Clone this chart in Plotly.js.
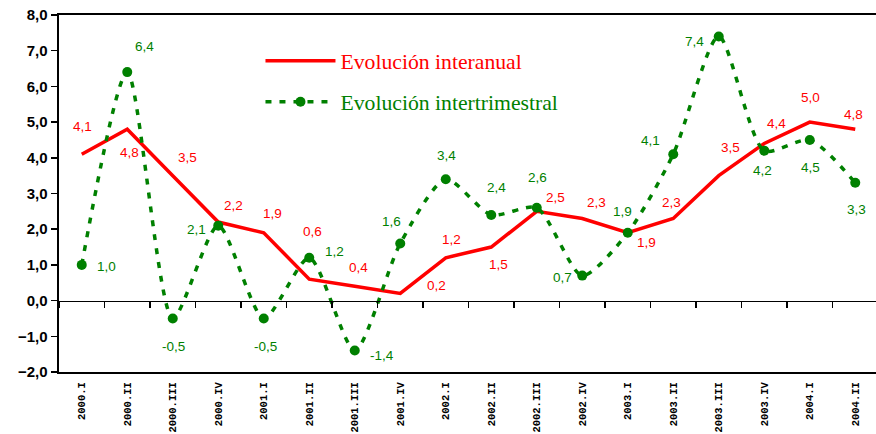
<!DOCTYPE html>
<html><head><meta charset="utf-8">
<script src="https://cdn.plot.ly/plotly-3.0.1.min.js"></script>
<style>html,body{margin:0;padding:0;overflow:hidden;background:#fff}</style>
</head><body><div id="chart" style="width:878px;height:434px"></div>
<script>
const categories = ['2000.I','2000.II','2000.III','2000.IV','2001.I','2001.II','2001.III','2001.IV',
  '2002.I','2002.II','2002.III','2002.IV','2003.I','2003.II','2003.III','2003.IV','2004.I','2004.II'];
const interanual = [4.1, 4.8, 3.5, 2.2, 1.9, 0.6, 0.4, 0.2, 1.2, 1.5, 2.5, 2.3, 1.9, 2.3, 3.5, 4.4, 5.0, 4.8];
const intertrimestral = [1.0, 6.4, -0.5, 2.1, -0.5, 1.2, -1.4, 1.6, 3.4, 2.4, 2.6, 0.7, 1.9, 4.1, 7.4, 4.2, 4.5, 3.3];
const seriesNames = ['Evolución interanual', 'Evolución intertrimestral'];

// label offsets in pixels [dx, dy] (dy positive = down)
const redLabelOffsets = [[1,-28],[2,23],[15,-18],[15,-17],[9,-19],[3,-48],[4,-19],[36,-8],[6,-18],
  [7,17],[19,-14],[14,-16],[19,10],[-2,-16],[12,-28],[12,-20],[1,-25],[-2,-15]];
const greenLabelOffsets = [[25,2],[17,-26],[1,28],[-22,4],[2,28],[25,-6],[27,5],[-9,-22],[1,-24],
  [5,-27],[1,-30],[-20,2],[-5,-21],[-23,-14],[-24,5],[-2,20],[1,28],[1,27]];

const RED = '#FF0000', GREEN = '#008000';
const fmt = v => v.toFixed(1).replace('.', ',');

const annotations = [];
function addLabels(vals, offs, color) {
  vals.forEach((v, i) => {
    annotations.push({
      x: categories[i], y: v, xref: 'x', yref: 'y', text: fmt(v), showarrow: false,
      xshift: offs[i][0], yshift: -offs[i][1],
      font: {family: 'Liberation Sans, Arial, sans-serif', size: 13.5, color: color}
    });
  });
}
addLabels(interanual, redLabelOffsets, RED);
addLabels(intertrimestral, greenLabelOffsets, GREEN);

const traces = [
  {x: categories, y: interanual, type: 'scatter', mode: 'lines', name: seriesNames[0],
   line: {color: RED, width: 3.5}, legend: 'legend', hoverinfo: 'skip'},
  {x: categories, y: intertrimestral, type: 'scatter', mode: 'lines+markers', name: seriesNames[1],
   line: {color: GREEN, width: 3.5, dash: '6px,8px', shape: 'spline', smoothing: 0.7},
   marker: {size: 10, color: GREEN}, legend: 'legend2', hoverinfo: 'skip'},
  {x: categories, y: interanual, type: 'scatter', mode: 'none', xaxis: 'x2', yaxis: 'y',
   showlegend: false, hoverinfo: 'skip'}
];

const layout = {
  width: 878, height: 434,
  margin: {l: 59, r: 0, t: 15, b: 62},
  paper_bgcolor: '#fff', plot_bgcolor: '#fff',
  separators: ',.',
  showlegend: true,
  xaxis: {
    type: 'category', categoryorder: 'array', categoryarray: categories, range: [-0.5, 17.5],
    showline: true, linewidth: 2, linecolor: '#000', mirror: true,
    ticks: '', tickangle: -90, ticklabelstandoff: 4,
    tickfont: {family: 'Liberation Mono, Courier New, monospace', size: 10.5, color: '#000', weight: 'bold'},
    showgrid: false, zeroline: false, fixedrange: true
  },
  xaxis2: {
    type: 'category', categoryorder: 'array', categoryarray: categories, range: [-0.5, 17.5],
    overlaying: 'x', anchor: 'free', position: 0.2, side: 'bottom',
    showline: true, linewidth: 1.5, linecolor: '#000',
    ticks: 'outside', tickson: 'boundaries', ticklen: 6, tickwidth: 1.5, tickcolor: '#000',
    showticklabels: false, showgrid: false, zeroline: false, fixedrange: true
  },
  yaxis: {
    range: [-2, 8], tick0: 0, dtick: 1, tickformat: '.1f',
    ticks: 'outside', ticklen: 6, tickwidth: 1.5, tickcolor: '#000',
    showline: true, linewidth: 2.5, linecolor: '#000',
    showgrid: false, zeroline: false, fixedrange: true,
    tickfont: {family: 'Liberation Sans, Arial, sans-serif', size: 15, color: '#000', weight: 'bold'}
  },
  legend: {x: 0.246, y: 0.871, xanchor: 'left', yanchor: 'middle', bgcolor: 'rgba(0,0,0,0)',
    itemwidth: 70, font: {family: 'Liberation Serif, Times New Roman, serif', size: 21.7, color: RED}},
  legend2: {x: 0.246, y: 0.756, xanchor: 'left', yanchor: 'middle', bgcolor: 'rgba(0,0,0,0)',
    itemwidth: 70, font: {family: 'Liberation Serif, Times New Roman, serif', size: 21.7, color: GREEN}},
  annotations: annotations
};

Plotly.newPlot('chart', traces, layout, {staticPlot: true, displayModeBar: false});
</script></body></html>
